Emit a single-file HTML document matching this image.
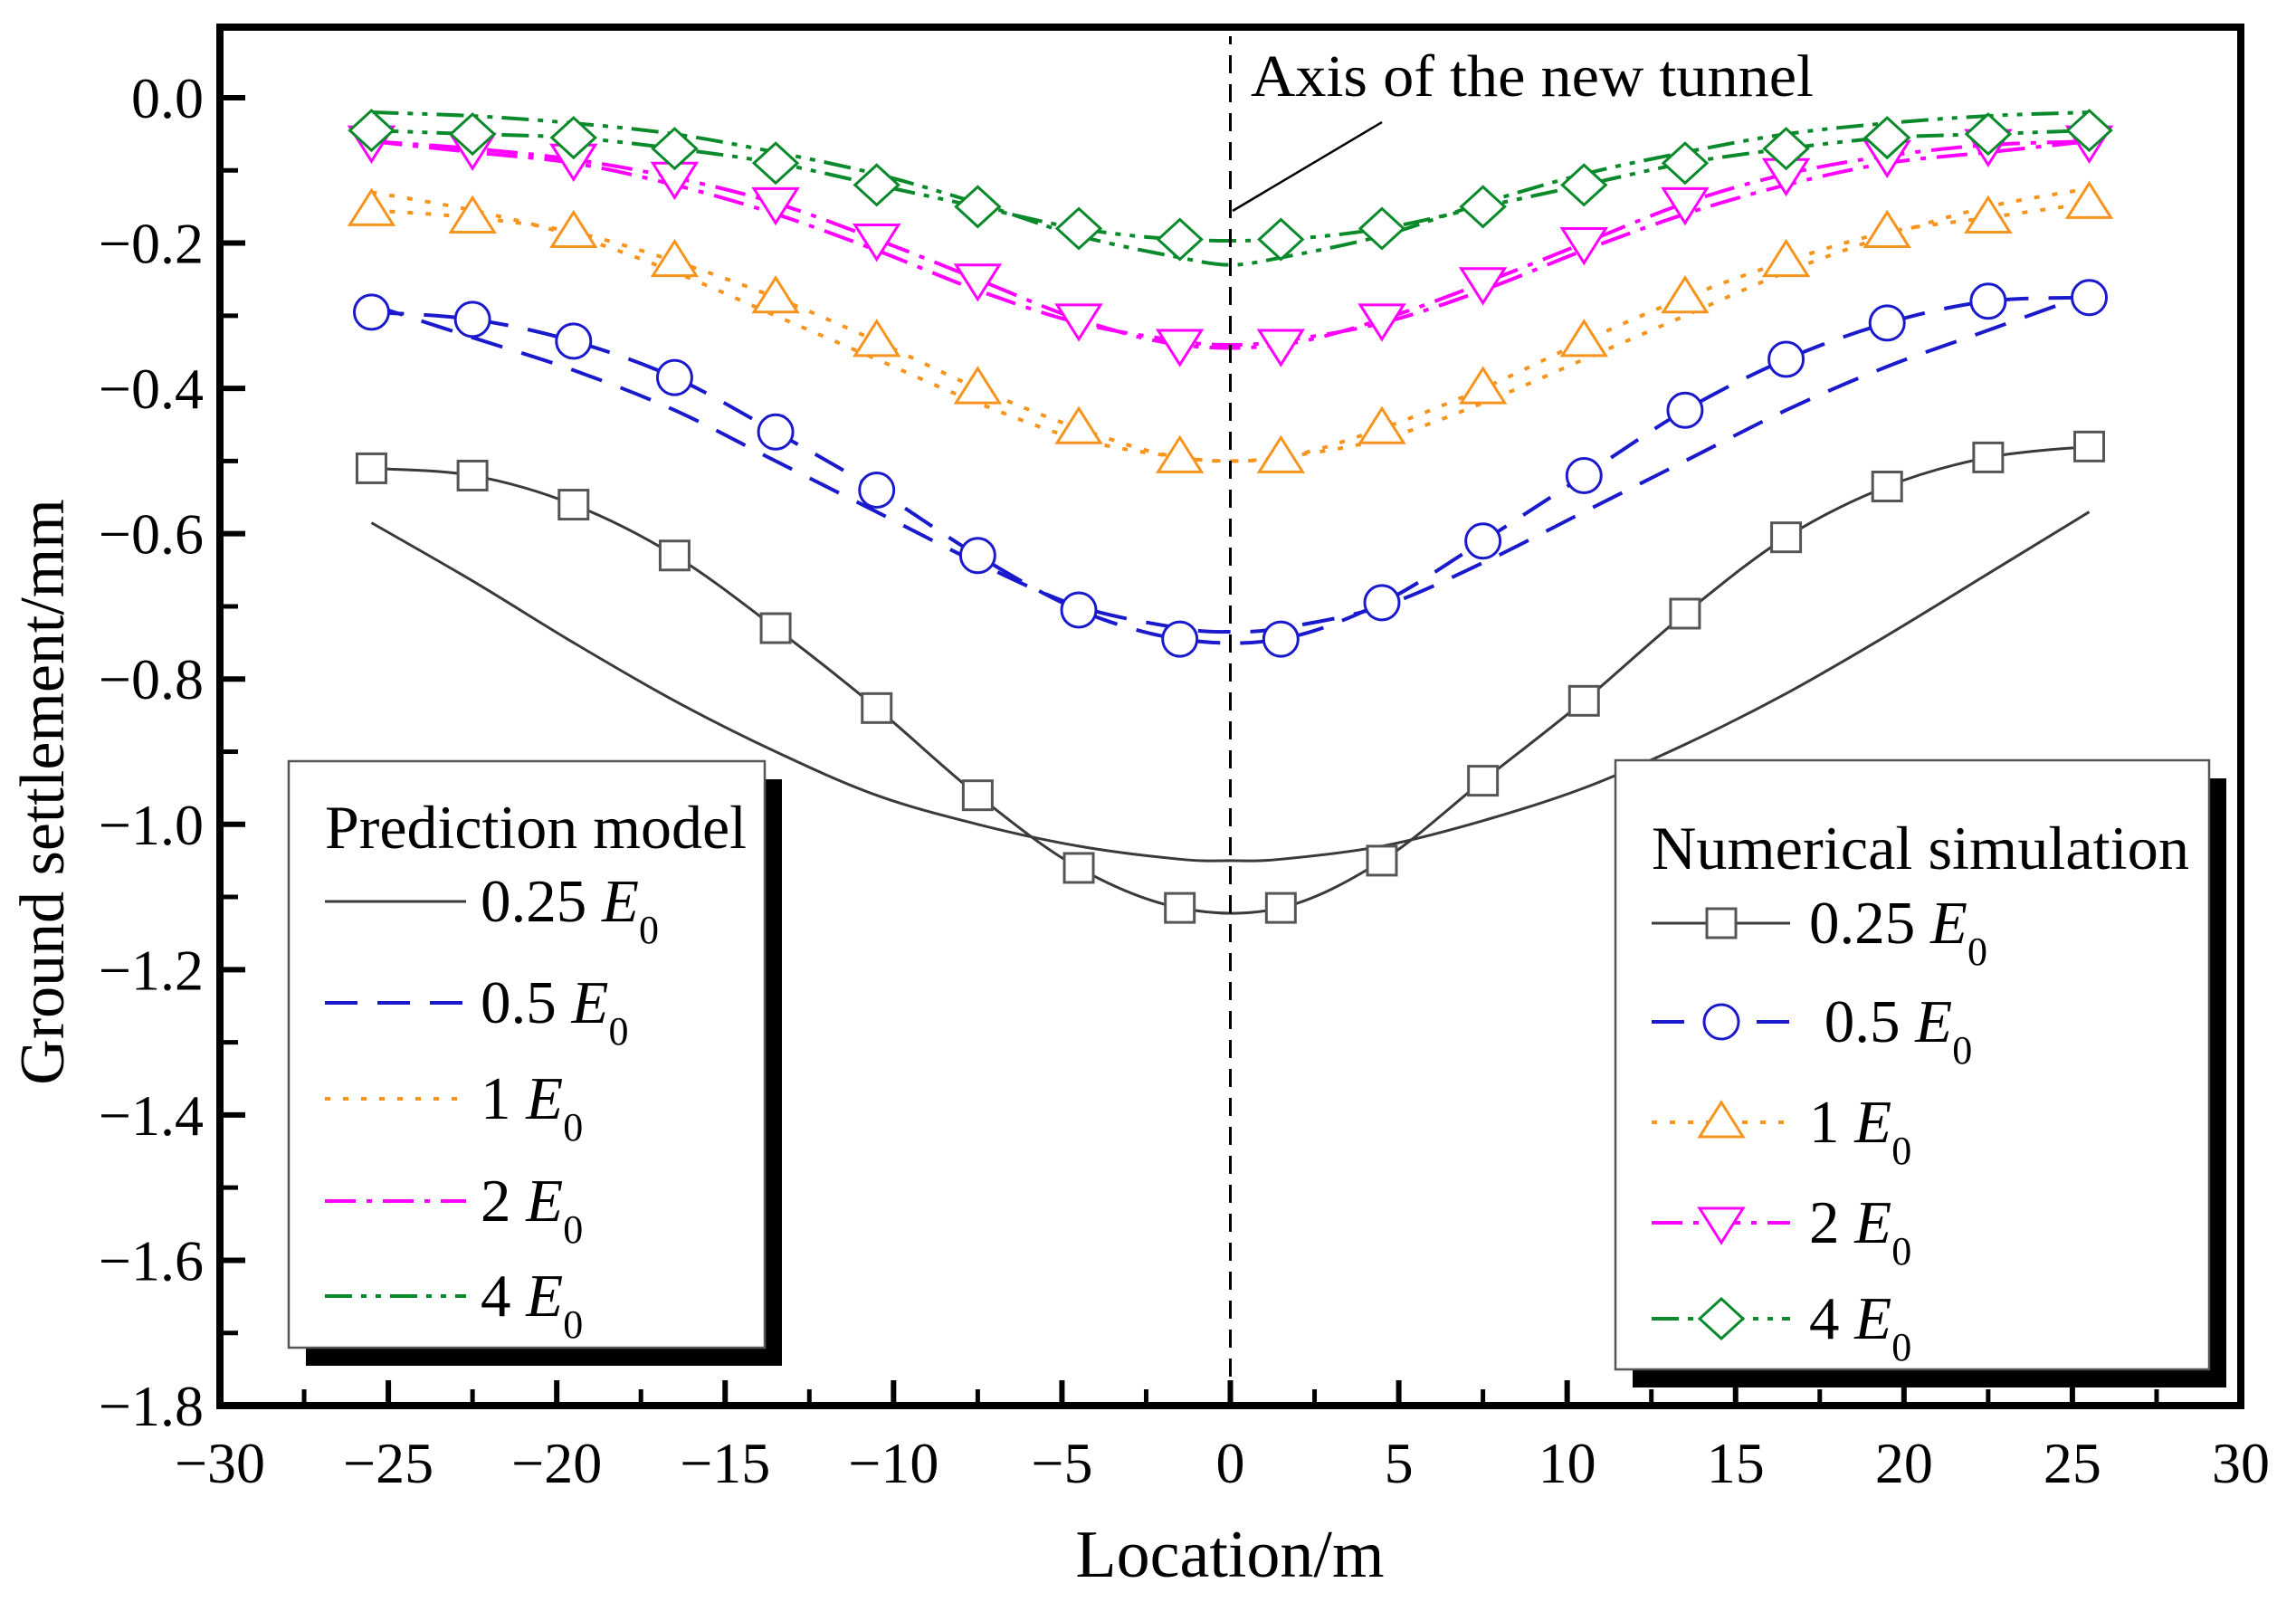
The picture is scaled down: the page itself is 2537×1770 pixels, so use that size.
<!DOCTYPE html>
<html><head><meta charset="utf-8"><style>
html,body{margin:0;padding:0;background:#fff}
svg{display:block}
text{font-family:"Liberation Serif",serif;fill:#000}
</style></head><body>
<svg id="chart" width="2537" height="1770" viewBox="0 0 2537 1770" xmlns="http://www.w3.org/2000/svg">
<g id="plot"></g>
</svg>
<script>
// ---- data ----
const simX = [-25.5,-22.5,-19.5,-16.5,-13.5,-10.5,-7.5,-4.5,-1.5,1.5,4.5,7.5,10.5,13.5,16.5,19.5,22.5,25.5];
const sim025 = [-0.51,-0.52,-0.56,-0.63,-0.73,-0.84,-0.96,-1.06,-1.115,-1.115,-1.05,-0.94,-0.83,-0.71,-0.605,-0.535,-0.495,-0.48];
const sim05 = [-0.295,-0.305,-0.335,-0.385,-0.46,-0.54,-0.63,-0.705,-0.745,-0.745,-0.695,-0.61,-0.52,-0.43,-0.36,-0.31,-0.28,-0.275];
const sim1 = [-0.155,-0.165,-0.185,-0.225,-0.275,-0.335,-0.40,-0.455,-0.495,-0.495,-0.455,-0.40,-0.335,-0.275,-0.225,-0.185,-0.165,-0.145];
const sim2 = [-0.06,-0.07,-0.085,-0.11,-0.145,-0.195,-0.25,-0.305,-0.34,-0.34,-0.305,-0.255,-0.20,-0.145,-0.105,-0.08,-0.065,-0.06];
const sim4 = [-0.045,-0.05,-0.055,-0.07,-0.09,-0.12,-0.15,-0.18,-0.195,-0.195,-0.18,-0.15,-0.12,-0.09,-0.07,-0.055,-0.05,-0.045];
const predX = [-25.5,-22.5,-19.5,-16.5,-13.5,-10.5,-7.5,-4.5,-1.5,0,1.5,4.5,7.5,10.5,13.5,16.5,19.5,22.5,25.5];
const pred025 = [-0.585,-0.665,-0.75,-0.83,-0.90,-0.96,-1.00,-1.03,-1.048,-1.05,-1.048,-1.03,-0.995,-0.95,-0.89,-0.82,-0.74,-0.655,-0.57];
const pred05 = [-0.285,-0.33,-0.375,-0.43,-0.50,-0.57,-0.64,-0.70,-0.73,-0.735,-0.73,-0.70,-0.64,-0.57,-0.50,-0.43,-0.37,-0.32,-0.27];
const pred1 = [-0.13,-0.155,-0.19,-0.24,-0.30,-0.36,-0.42,-0.47,-0.495,-0.50,-0.495,-0.47,-0.42,-0.36,-0.30,-0.24,-0.19,-0.15,-0.125];
const pred2 = [-0.06,-0.075,-0.09,-0.12,-0.16,-0.21,-0.265,-0.31,-0.335,-0.34,-0.335,-0.31,-0.265,-0.21,-0.16,-0.12,-0.09,-0.075,-0.06];
const pred4 = [-0.02,-0.025,-0.035,-0.05,-0.075,-0.105,-0.145,-0.19,-0.22,-0.23,-0.22,-0.19,-0.145,-0.105,-0.075,-0.05,-0.035,-0.025,-0.02];
const xTicks = [-30,-25,-20,-15,-10,-5,0,5,10,15,20,25,30];
const yTicks = [0,-0.2,-0.4,-0.6,-0.8,-1.0,-1.2,-1.4,-1.6,-1.8];
const yTickLabels = ["0.0","\u22120.2","\u22120.4","\u22120.6","\u22120.8","\u22121.0","\u22121.2","\u22121.4","\u22121.6","\u22121.8"];

// ---- axes ----
const X0=243, X1=2476, Y0=108, Y1=1553;
const xs = v => X0 + (v+30)/60*(X1-X0);
const ys = v => Y0 + (v/-1.8)*(Y1-Y0);
const NS="http://www.w3.org/2000/svg";
const g=document.getElementById('plot');
function mk(tag,attrs,parent){const e=document.createElementNS(NS,tag);for(const k in attrs)e.setAttribute(k,attrs[k]);(parent||g).appendChild(e);return e;}
function smooth(pts){let d=`M${pts[0][0]},${pts[0][1]}`;for(let i=0;i<pts.length-1;i++){const p0=pts[i-1]||pts[i],p1=pts[i],p2=pts[i+1],p3=pts[i+2]||p2;
const c1=[p1[0]+(p2[0]-p0[0])/6,p1[1]+(p2[1]-p0[1])/6],c2=[p2[0]-(p3[0]-p1[0])/6,p2[1]-(p3[1]-p1[1])/6];
d+=` C${c1[0]},${c1[1]} ${c2[0]},${c2[1]} ${p2[0]},${p2[1]}`;}return d;}

const colors={k:'#3a3a3a',b:'#1a1acc',o:'#f7941d',m:'#ff00ff',g:'#0a8a2a'};
const dashes={k:'none',b:'36 22',o:'6 14',m:'34 12 6 12',g:'30 10 6 10 6 10'};

function legendBox(name,x,y,w,h){
  const s=mk('rect',{x:x+19,y:y+20,width:w,height:h,fill:'#000'});
  
  
}

const preds=[[pred025,'k','0.25'],[pred05,'b','0.5'],[pred1,'o','1'],[pred2,'m','2'],[pred4,'g','4']];
preds.forEach(([arr,c,lab])=>{
  const p=mk('path',{d:smooth(predX.map((x,i)=>[xs(x),ys(arr[i])])),fill:'none',stroke:colors[c],'stroke-width':c==='k'?3:4,'stroke-dasharray':dashes[c]});
  
  
});
function marker(type,cx,cy,col,parent){
  let e;
  if(type==='k')e=mk('rect',{x:cx-16,y:cy-16,width:32,height:32,fill:'#fff',stroke:'#555','stroke-width':3},parent);
  else if(type==='b')e=mk('circle',{cx:cx,cy:cy,r:19,fill:'#fff',stroke:col,'stroke-width':3},parent);
  else if(type==='o')e=mk('polygon',{points:`${cx},${cy-22} ${cx+24},${cy+16} ${cx-24},${cy+16}`,fill:'#fff',stroke:col,'stroke-width':3},parent);
  else if(type==='m')e=mk('polygon',{points:`${cx-24},${cy-16} ${cx+24},${cy-16} ${cx},${cy+22}`,fill:'#fff',stroke:col,'stroke-width':3},parent);
  else e=mk('polygon',{points:`${cx},${cy-22} ${cx+24},${cy} ${cx},${cy+22} ${cx-24},${cy}`,fill:'#fff',stroke:col,'stroke-width':3},parent);
  return e;
}
const sims=[[sim025,'k','0.25'],[sim05,'b','0.5'],[sim1,'o','1'],[sim2,'m','2'],[sim4,'g','4']];
sims.forEach(([arr,c,lab])=>{
  const p=mk('path',{d:smooth(simX.map((x,i)=>[xs(x),ys(arr[i])])),fill:'none',stroke:colors[c],'stroke-width':c==='k'?3:4,'stroke-dasharray':dashes[c]});
  
  
  simX.forEach((x,i)=>{
    const m=marker(c,xs(x),ys(arr[i]),colors[c]);
    
    
  });
});

const ax=mk('line',{x1:xs(0),y1:Y1,x2:xs(0),y2:40,stroke:'#000','stroke-width':3,'stroke-dasharray':'20 12'});


const ld=mk('line',{x1:1362,y1:233,x2:1527,y2:135,stroke:'#000','stroke-width':2.5});


const at=mk('text',{x:1382,y:106,'font-size':66,textLength:622,lengthAdjust:'spacingAndGlyphs'});
at.textContent='Axis of the new tunnel';



function legend(name,x,y,w,h,title,ty,tw,entries,sim){
  legendBox(name,x,y,w,h);
  const grp=mk('g',{});
  
  
  mk('rect',{x:x,y:y,width:w,height:h,fill:'#fff',stroke:'#555','stroke-width':2.5},grp);
  const t=mk('text',{x:x+40,y:ty,'font-size':68,textLength:tw,lengthAdjust:'spacingAndGlyphs'},grp);t.textContent=title;
  entries.forEach(([c,lab,ey],i)=>{
    mk('line',{x1:x+40,y1:ey,x2:x+(sim?193:196),y2:ey,stroke:colors[c],'stroke-width':c==='k'?3:4,'stroke-dasharray':dashes[c]},grp);
    if(sim)marker(c,x+117,ey,colors[c],grp);
    const tx=mk('text',{x:x+(sim?214:212),y:ey+22,'font-size':67},grp);
    tx.innerHTML=lab+' <tspan font-style="italic">E</tspan><tspan font-size="44" dy="24">0</tspan>';
  });
}
legend('prediction-legend',319,841,526,648,'Prediction model',937,466,
  [['k','0.25',996],['b','0.5',1108],['o','1',1214],['m','2',1327],['g','4',1432]],false);
legend('simulation-legend',1785,840,656,673,'Numerical simulation',960,594,
  [['k','0.25',1020],['b','\u00a00.5',1129],['o','1',1240],['m','2',1351],['g','4',1457]],true);

const fr=mk('rect',{x:X0,y:30,width:X1-X0,height:Y1-30,fill:'none',stroke:'#000','stroke-width':8});


for(let v=0;v>=-1.8001;v-=0.1){const maj=Math.round(v*10)%2===0;mk('line',{x1:X0,y1:ys(v),x2:X0+(maj?28:20),y2:ys(v),stroke:'#000','stroke-width':maj?6:5});}
for(let v=-30;v<=30;v+=2.5){const maj=v%5===0;mk('line',{x1:xs(v),y1:Y1,x2:xs(v),y2:Y1-(maj?28:18),stroke:'#000','stroke-width':maj?6:5});}
yTicks.forEach((v,i)=>{const t=mk('text',{x:X0-18,y:ys(v)+22,'font-size':64,'text-anchor':'end'});t.textContent=yTickLabels[i];
  });
xTicks.forEach(v=>{const t=mk('text',{x:xs(v),y:1638,'font-size':64,'text-anchor':'middle'});t.textContent=(v<0?'\u2212':'')+Math.abs(v);
  });
const xt=mk('text',{x:1359,y:1742,'font-size':74,'text-anchor':'middle'});xt.textContent='Location/m';

const yt=mk('text',{x:0,y:0,'font-size':70,'text-anchor':'middle',transform:'translate(70,875) rotate(-90)'});yt.textContent='Ground settlement/mm';

</script>
</body></html>
